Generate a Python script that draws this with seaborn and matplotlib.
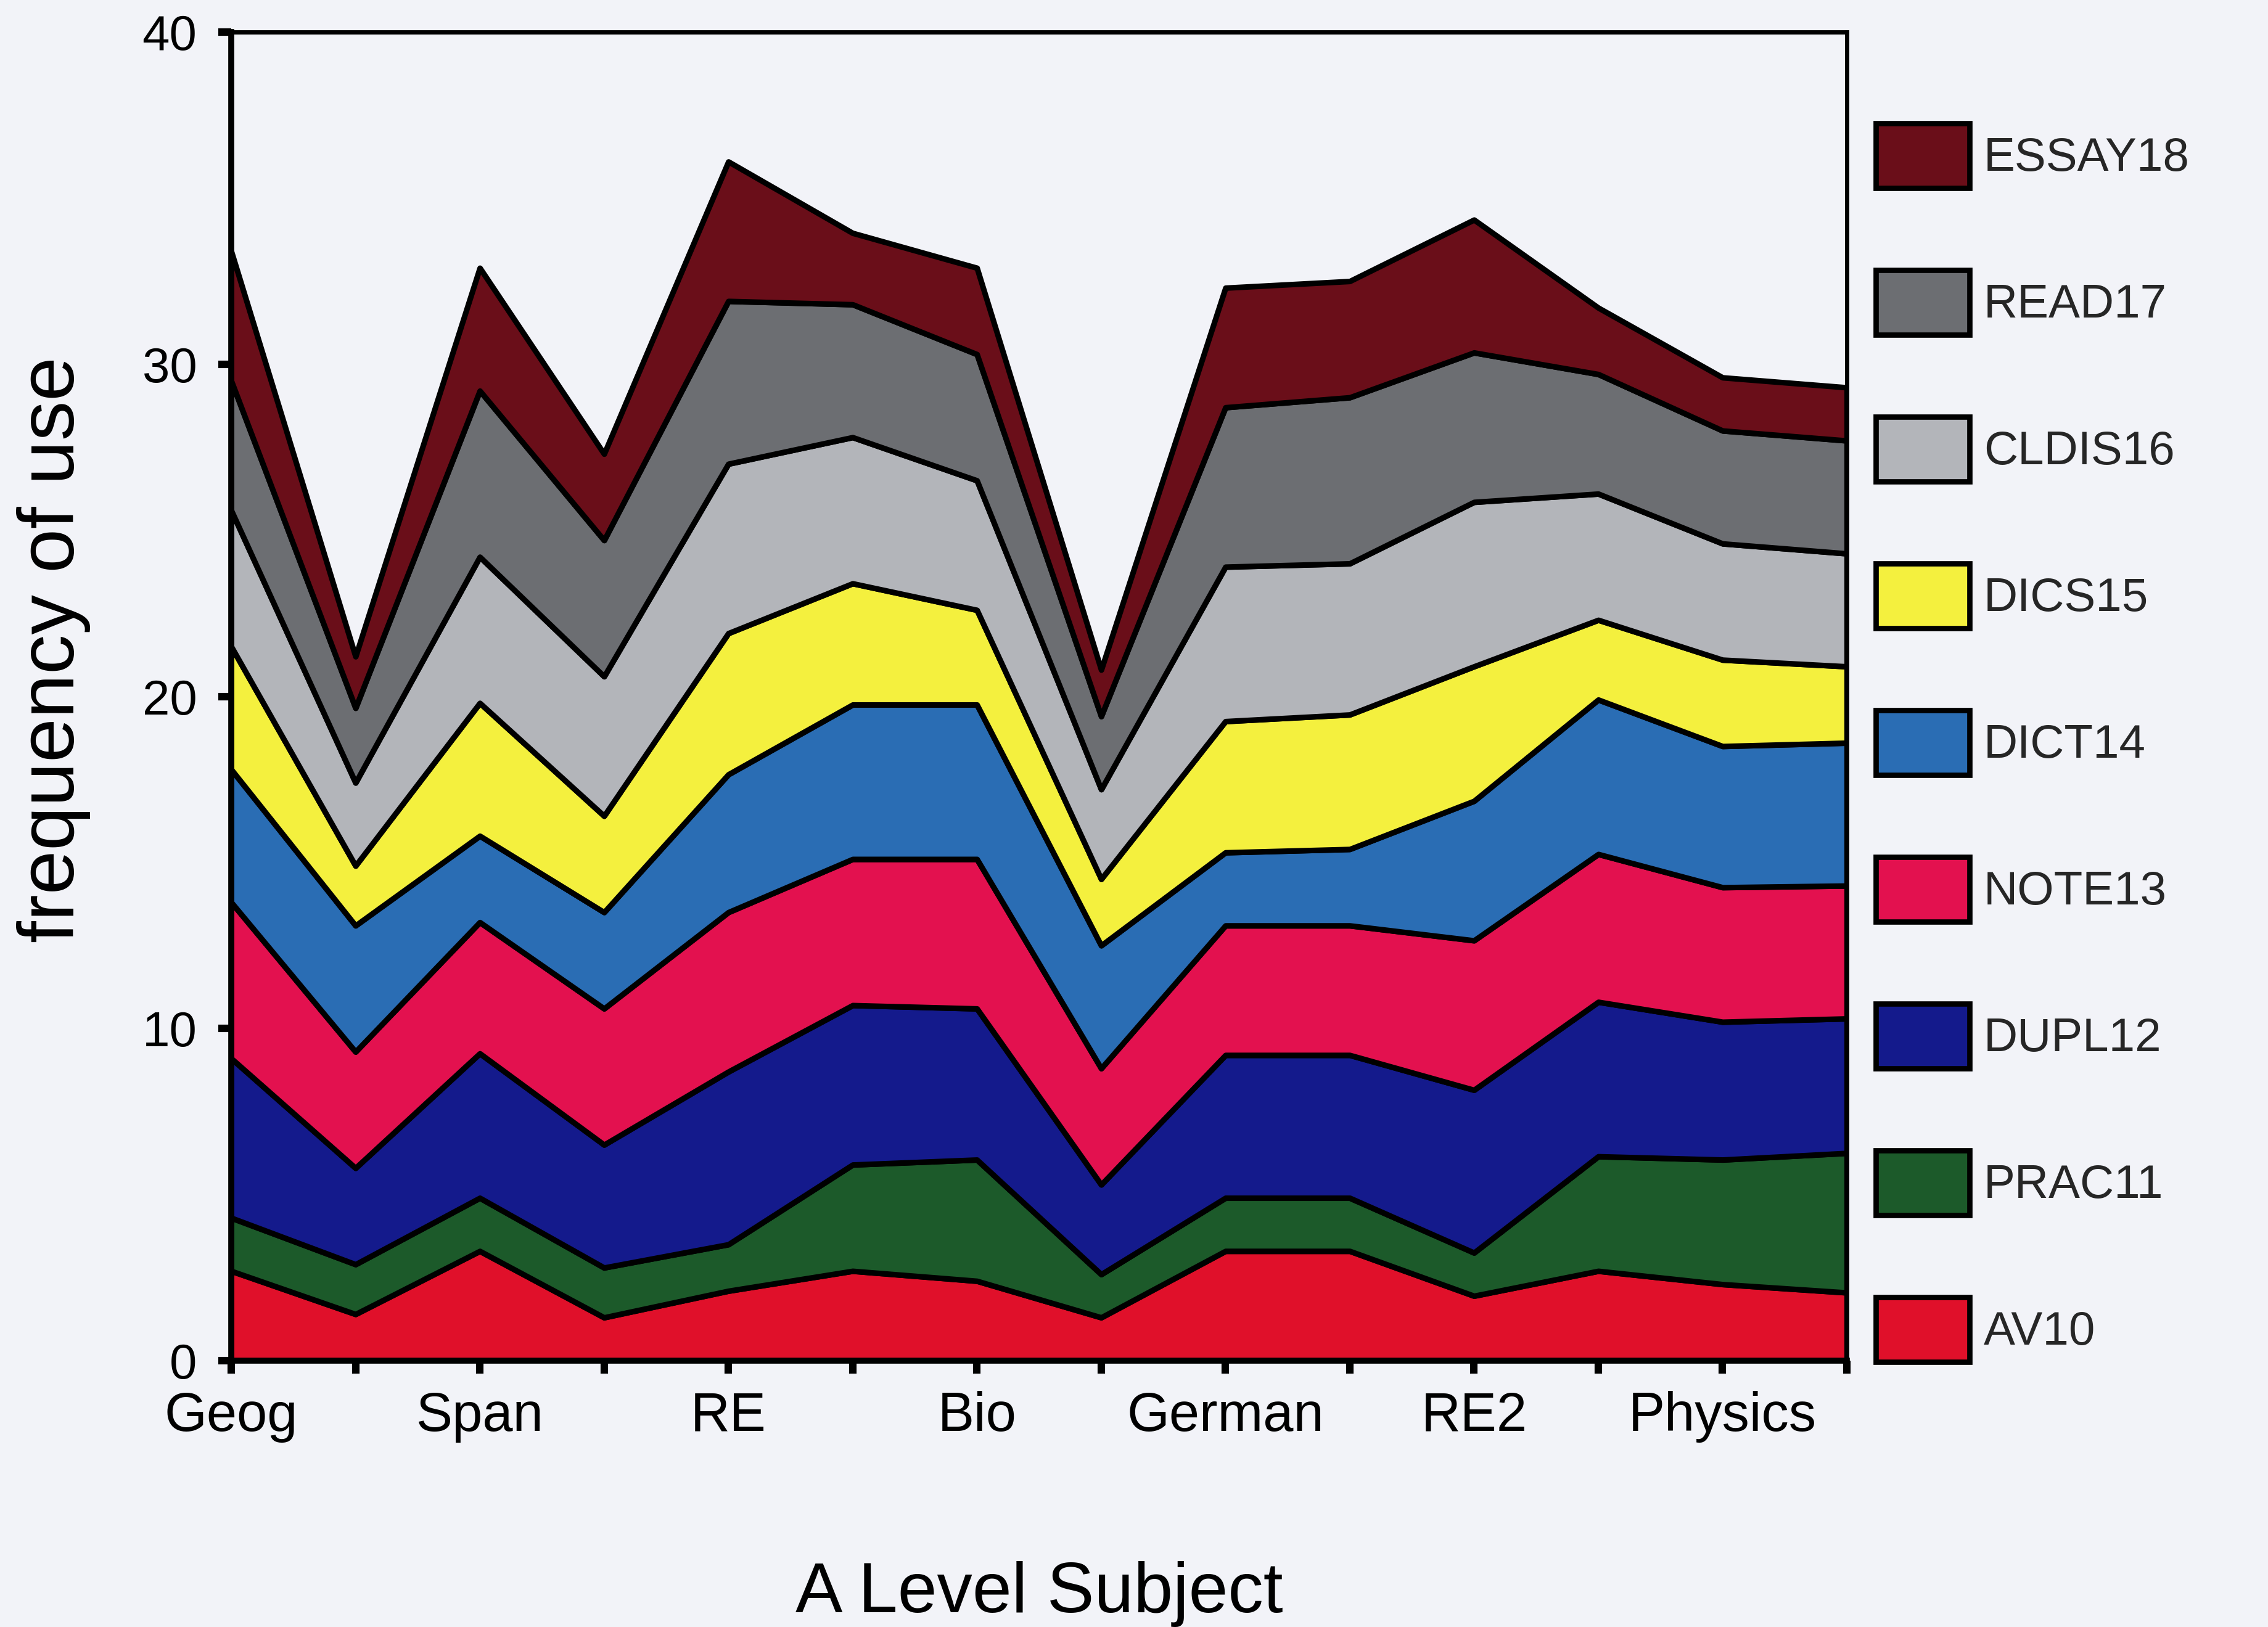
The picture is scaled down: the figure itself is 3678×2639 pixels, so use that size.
import matplotlib
matplotlib.use("Agg")
import matplotlib.pyplot as plt
import seaborn as sns
import numpy as np
from matplotlib.patches import Patch

# ---- data ----
tick_labels = ["Geog", "", "Span", "", "RE", "", "Bio", "", "German", "", "RE2", "", "Physics", ""]

AV10    = [2.7, 1.4, 3.3, 1.3, 2.1, 2.7, 2.4, 1.3, 3.3, 3.3, 1.95, 2.7, 2.3, 2.05]
PRAC11  = [1.6, 1.5, 1.6, 1.5, 1.4, 3.2, 3.65, 1.3, 1.6, 1.6, 1.3, 3.45, 3.75, 4.2]
DUPL12  = [4.8, 2.9, 4.35, 3.7, 5.2, 4.8, 4.55, 2.7, 4.3, 4.3, 4.9, 4.65, 4.15, 4.05]
NOTE13  = [4.7, 3.5, 3.95, 4.1, 4.8, 4.4, 4.5, 3.5, 3.9, 3.9, 4.5, 4.45, 4.05, 4.0]
DICT14  = [4.0, 3.8, 2.6, 2.9, 4.15, 4.65, 4.65, 3.7, 2.2, 2.3, 4.2, 4.65, 4.25, 4.3]
DICS15  = [3.7, 1.8, 4.0, 2.9, 4.25, 3.65, 2.85, 2.0, 3.95, 4.05, 4.05, 2.4, 2.6, 2.3]
CLDIS16 = [4.1, 2.5, 4.4, 4.2, 5.1, 4.4, 3.9, 2.7, 4.65, 4.55, 4.95, 3.8, 3.5, 3.4]
READ17  = [3.9, 2.25, 5.0, 4.1, 4.9, 4.0, 3.8, 2.2, 4.8, 5.0, 4.5, 3.6, 3.4, 3.4]
ESSAY18 = [3.9, 1.55, 3.7, 2.6, 4.2, 2.15, 2.6, 1.4, 3.6, 3.5, 4.0, 2.0, 1.6, 1.6]

series_names = ["AV10", "PRAC11", "DUPL12", "NOTE13", "DICT14",
                "DICS15", "CLDIS16", "READ17", "ESSAY18"]
series_vals = [AV10, PRAC11, DUPL12, NOTE13, DICT14, DICS15, CLDIS16, READ17, ESSAY18]
series_colors = ["#e0102a", "#1c5a2a", "#141a8c", "#e3114f", "#2a6db4",
                 "#f4f03e", "#b3b5ba", "#6c6e72", "#6a0e19"]

# ---- style ----
sns.set_theme(style="white")
plt.rcParams["font.family"] = ["Liberation Sans", "DejaVu Sans"]
bg = "#f2f3f8"

W, H, DPI = 3678, 2639, 250
fig = plt.figure(figsize=(W / DPI, H / DPI), dpi=DPI, facecolor=bg)
ax_left, ax_right, ax_top, ax_bottom = 375, 2995, 52, 2207
ax = fig.add_axes([ax_left / W, 1 - ax_bottom / H,
                   (ax_right - ax_left) / W, (ax_bottom - ax_top) / H])
ax.set_facecolor(bg)

x = np.arange(len(tick_labels))
ax.stackplot(x, *series_vals, colors=series_colors,
             edgecolor="black", linewidth=2.6)

ax.set_xlim(0, len(tick_labels) - 1)
ax.set_ylim(0, 40)
ax.set_xticks(x)
ax.set_xticklabels(tick_labels)
ax.set_yticks([0, 10, 20, 30, 40])

for side in ["left", "bottom"]:
    ax.spines[side].set_linewidth(2.8)
    ax.spines[side].set_color("black")
for side in ["top", "right"]:
    ax.spines[side].set_linewidth(2.0)
    ax.spines[side].set_color("black")
    ax.spines[side].set_visible(True)

ax.tick_params(axis="both", direction="out", length=6, width=3.5,
               color="black", labelcolor="black")
ax.tick_params(axis="y", pad=10, left=True, labelsize=23)
ax.tick_params(axis="x", pad=8, bottom=True, labelsize=25.5)

ax.set_xlabel("A Level Subject", fontsize=33, color="black")
ax.set_ylabel("frequency of use", fontsize=37, color="black")
ax.xaxis.set_label_coords(0.5, -0.151)
ax.yaxis.set_label_coords(-0.087, 0.535)

# ---- legend (top: ESSAY18 ... bottom: AV10) ----
handles = [Patch(facecolor=c, edgecolor="black", linewidth=2.5)
           for c in series_colors][::-1]
labels = series_names[::-1]
leg_fs = 22
fs_px = leg_fs / 72 * DPI
patch_h = 105
row_stride = 238
hh = (patch_h / fs_px - 0.245) / 0.65
fig.legend(handles, labels, loc="upper left",
           bbox_to_anchor=(3042 / W, 1 - 200 / H),
           frameon=False, fontsize=leg_fs,
           handlelength=152 / fs_px, handleheight=hh,
           labelspacing=(row_stride - patch_h) / fs_px, handletextpad=0.3,
           borderpad=0, borderaxespad=0)

fig.savefig("out.png", dpi=DPI, facecolor=bg)
